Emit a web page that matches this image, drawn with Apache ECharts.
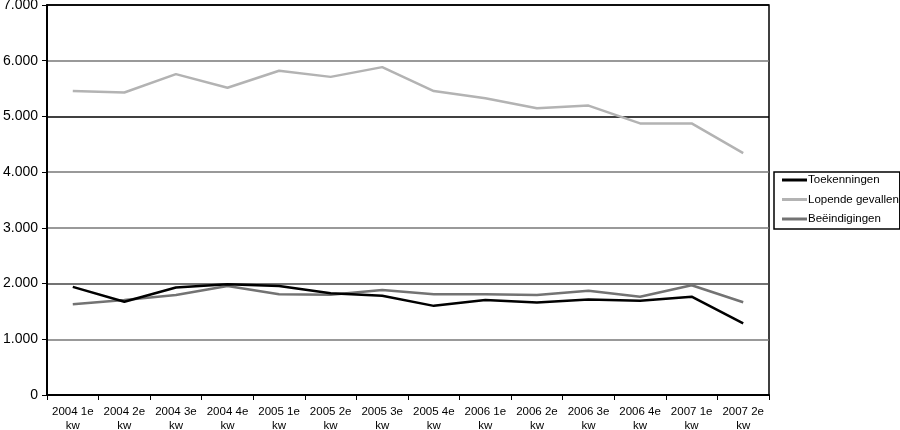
<!DOCTYPE html>
<html><head><meta charset="utf-8">
<script src="https://cdn.jsdelivr.net/npm/echarts@6/dist/echarts.min.js"></script>
<style>html,body{margin:0;padding:0;background:#fff}#c{width:900px;height:430px}</style>
</head><body><div id="c"></div>
<script>
const categories = ['2004 1e\nkw','2004 2e\nkw','2004 3e\nkw','2004 4e\nkw','2005 1e\nkw','2005 2e\nkw','2005 3e\nkw','2005 4e\nkw','2006 1e\nkw','2006 2e\nkw','2006 3e\nkw','2006 4e\nkw','2007 1e\nkw','2007 2e\nkw'];
const toekenningen = [1940,1675,1930,1990,1955,1825,1780,1600,1705,1660,1715,1690,1765,1285];
const lopendeGevallen = [5455,5430,5760,5515,5820,5710,5885,5455,5325,5145,5195,4875,4875,4340];
const beeindigingen = [1630,1705,1795,1955,1810,1800,1885,1810,1810,1795,1870,1765,1970,1665];
const seriesNames = ['Toekenningen','Lopende gevallen','Beëindigingen'];

const chart = echarts.init(document.getElementById('c'), null, {renderer:'canvas'});
const font = 'Liberation Sans, Arial, sans-serif';
chart.setOption({
  animation:false,
  backgroundColor:'#fff',
  textStyle:{fontFamily:font},
  grid:{left:47,right:131,top:5,bottom:35,outerBoundsMode:'none',containLabel:false,show:true,borderColor:'#000',borderWidth:1.5,backgroundColor:'transparent'},
  legend:{
    orient:'vertical', left:774, top:172,
    borderColor:'#000', borderWidth:1.5, padding:[1,1,3,8],
    itemWidth:25, itemHeight:3, itemGap:5.5, icon:'rect',
    textStyle:{fontFamily:font,fontSize:11.5,color:'#000',padding:[0,0,0,-4],lineHeight:14},
    data:seriesNames
  },
  xAxis:{
    type:'category', data:categories, boundaryGap:true,
    axisLine:{lineStyle:{color:'#000',width:2}},
    axisTick:{show:true,interval:0,length:5,lineStyle:{color:'#000',width:1}},
    axisLabel:{interval:0,fontSize:11.5,color:'#000',lineHeight:14,margin:10,fontFamily:font}
  },
  yAxis:{
    type:'value', min:0, max:7000, interval:1000,
    axisLine:{show:true,lineStyle:{color:'#000',width:2}},
    axisTick:{show:true,length:5,lineStyle:{color:'#000'}},
    axisLabel:{fontSize:14,color:'#000',margin:9,fontFamily:font,
      formatter:v=>v===0?'0':String(v).replace(/(\d)(?=(\d{3})+$)/g,'$1.')},
    splitLine:{show:true,lineStyle:{color:['#000','#777','#444','#777','#777','#000','#777','#000'],width:1.5}}
  },
  series:[
    {name:seriesNames[0],type:'line',data:toekenningen,symbol:'none',lineStyle:{color:'#000',width:2.5},itemStyle:{color:'#000'},z:4},
    {name:seriesNames[1],type:'line',data:lopendeGevallen,symbol:'none',lineStyle:{color:'#b3b3b3',width:2.5},itemStyle:{color:'#b3b3b3'},z:2},
    {name:seriesNames[2],type:'line',data:beeindigingen,symbol:'none',lineStyle:{color:'#737373',width:2.5},itemStyle:{color:'#737373'},z:3}
  ]
});
</script></body></html>
